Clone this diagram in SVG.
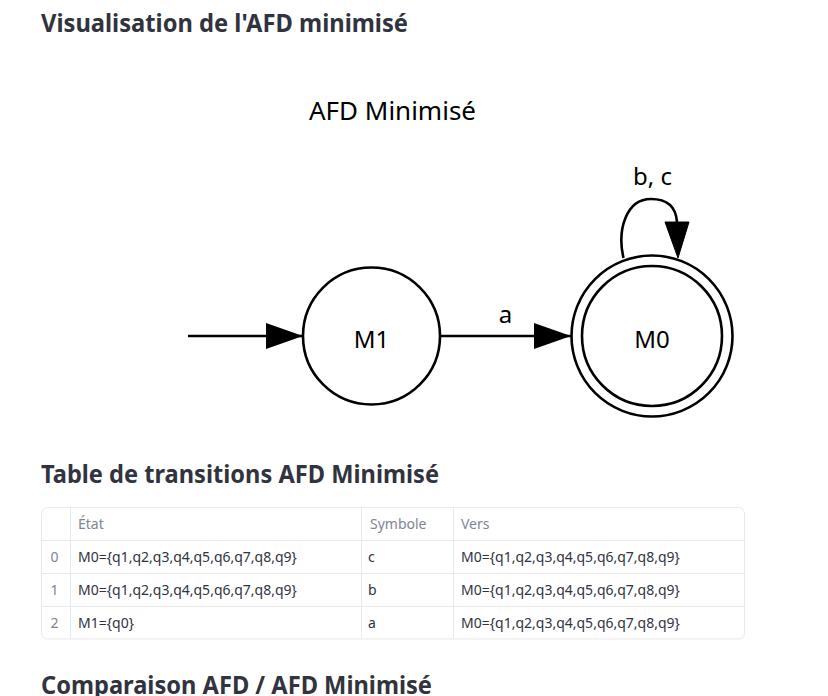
<svg xmlns="http://www.w3.org/2000/svg" width="828" height="696" viewBox="0 0 828 696">
<style>
.h{font-family:"Noto Sans","Open Sans",sans-serif;font-weight:bold;font-size:25px;fill:#31333f}
.g{font-family:"Noto Sans","DejaVu Sans",sans-serif;font-size:24px;fill:#000}
.st{fill:#fff;stroke:#000;stroke-width:2.6}
.ed{fill:none;stroke:#000;stroke-width:2.6}
.td{font-family:"Noto Sans","Open Sans",sans-serif;font-size:14px;fill:#31333f}
.th{font-family:"Noto Sans","Open Sans",sans-serif;font-size:14px;fill:#808495}
.grid{stroke:#e9e9eb;stroke-width:1;fill:none}
</style>
<defs>
<marker id="ah" viewBox="0 0 37 26" refX="37" refY="13" markerWidth="37" markerHeight="26" markerUnits="userSpaceOnUse" orient="auto">
<path d="M0,0 L37,13 L0,26 Z" fill="#000"/>
</marker>
</defs>
<rect width="828" height="696" fill="#fff"/>
<text class="h" x="41" y="32" textLength="367" lengthAdjust="spacingAndGlyphs">Visualisation de l'AFD minimisé</text>
<text class="g" x="309" y="120" textLength="167" lengthAdjust="spacingAndGlyphs" style="font-size:26px">AFD Minimisé</text>
<g id="connectors">
<line class="ed" x1="188" y1="336" x2="303" y2="336" marker-end="url(#ah)"/>
<line class="ed" x1="440" y1="336" x2="571" y2="336" marker-end="url(#ah)"/>
<text class="g" x="505.5" y="323" text-anchor="middle">a</text>
<path class="ed" d="M623.5,258 C617,230 626,199 651,199 C669,199 676,208 677,222"/>
<path d="M665,222 L689,222 L678,258 Z" fill="#000" stroke="#000" stroke-width="1"/>
<text class="g" x="652.5" y="185" text-anchor="middle">b, c</text>
</g>
<g id="M1">
<circle class="st" cx="371.5" cy="336" r="68.5"/>
<text class="g" x="371.5" y="348" text-anchor="middle">M1</text>
</g>
<g id="M0">
<circle class="st" cx="652" cy="336" r="80.5"/>
<circle class="st" cx="652" cy="336" r="70"/>
<text class="g" x="652" y="348" text-anchor="middle">M0</text>
</g>
<text class="h" x="41" y="483" textLength="398" lengthAdjust="spacingAndGlyphs">Table de transitions AFD Minimisé</text>
<g id="table">
<rect class="grid" x="41.5" y="507.5" width="703" height="131.5" rx="6"/>
<line class="grid" x1="70.5" y1="507.5" x2="70.5" y2="639"/>
<line class="grid" x1="361.5" y1="507.5" x2="361.5" y2="639"/>
<line class="grid" x1="453.5" y1="507.5" x2="453.5" y2="639"/>
<line class="grid" x1="41.5" y1="540.5" x2="744.5" y2="540.5"/>
<line class="grid" x1="41.5" y1="573.5" x2="744.5" y2="573.5"/>
<line class="grid" x1="41.5" y1="606.5" x2="744.5" y2="606.5"/>
<text class="th" x="78" y="529">État</text>
<text class="th" x="370" y="529">Symbole</text>
<text class="th" x="461" y="529">Vers</text>
<text class="th" x="54.5" y="562" text-anchor="middle">0</text>
<text class="th" x="54.5" y="595" text-anchor="middle">1</text>
<text class="th" x="54.5" y="628" text-anchor="middle">2</text>
<text class="td" x="78" y="562">M0={q1,q2,q3,q4,q5,q6,q7,q8,q9}</text>
<text class="td" x="78" y="595">M0={q1,q2,q3,q4,q5,q6,q7,q8,q9}</text>
<text class="td" x="78" y="628">M1={q0}</text>
<text class="td" x="368" y="562">c</text>
<text class="td" x="368" y="595">b</text>
<text class="td" x="368" y="628">a</text>
<text class="td" x="461" y="562">M0={q1,q2,q3,q4,q5,q6,q7,q8,q9}</text>
<text class="td" x="461" y="595">M0={q1,q2,q3,q4,q5,q6,q7,q8,q9}</text>
<text class="td" x="461" y="628">M0={q1,q2,q3,q4,q5,q6,q7,q8,q9}</text>
</g>
<text class="h" x="41" y="694" textLength="391" lengthAdjust="spacingAndGlyphs">Comparaison AFD / AFD Minimisé</text>
</svg>
